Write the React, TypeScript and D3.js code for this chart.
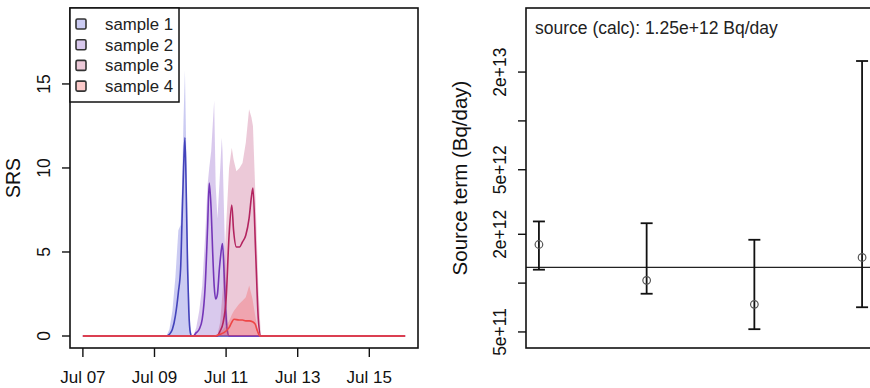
import * as d3 from "d3";

const START = Date.UTC(2011, 6, 7);
const HOUR = 3600 * 1000;

const sampleNames = ["sample 1", "sample 2", "sample 3", "sample 4"];
const lineColors = ["#4343bb", "#7436b8", "#b3245f", "#ee4646"];
const fillColors = [
  "rgba(70,70,210,0.28)",
  "rgba(120,60,190,0.28)",
  "rgba(180,40,100,0.25)",
  "rgba(245,80,80,0.3)",
];

// hours since Jul 07 00:00, median SRS and upper envelope
const s1Hours = [0, 56, 58, 60, 62, 64, 65.5, 66.5, 67.5, 68.4, 69.3, 70.2, 71, 72, 73, 216];
const s1Mid = [0, 0, 0.1, 0.4, 1.2, 2.6, 4, 7, 10, 11.8, 8.5, 4, 1.5, 0.2, 0, 0];
const s1Upper = [0, 0, 0.4, 1.5, 3.5, 6.3, 6.6, 9, 13, 15.8, 11, 6, 3, 0.6, 0, 0];

const s2Hours = [0, 74, 76, 78, 80, 82, 83.6, 84.7, 86, 87, 88, 89, 90.2, 91.5, 93.1, 93.6, 95, 96.5, 98, 216];
const s2Mid = [0, 0, 0.2, 0.4, 1, 3, 6.5, 9.1, 7.5, 5, 3, 2.2, 2.5, 4, 5.3, 5.5, 3, 0.5, 0, 0];
const s2Upper = [0, 0, 0.5, 1.5, 3, 6, 9, 10, 11, 12.5, 14, 9, 7, 9, 11.8, 11, 6, 1.5, 0, 0];

const s3Hours = [0, 90, 92, 94, 96, 98, 99.8, 101, 102.9, 105, 107, 109.2, 111.4, 113, 114, 115.8, 117.6, 119.3, 216];
const s3Mid = [0, 0, 0.3, 0.8, 2.2, 6, 7.8, 6.3, 5.3, 5.3, 5.6, 6, 7, 8.3, 8.8, 5, 1, 0, 0];
const s3Upper = [0, 0, 0.8, 3, 6.5, 10, 11.2, 10.5, 9.8, 10, 10.3, 11.5, 13.5, 13, 12.5, 8, 3, 0, 0];

const s4Hours = [0, 88, 92, 96, 98, 100, 101.3, 104.7, 107, 109.2, 111.5, 113.7, 115.5, 117, 118.7, 216];
const s4Mid = [0, 0, 0.1, 0.3, 0.5, 0.85, 1.0, 0.95, 0.95, 0.9, 0.9, 0.85, 0.7, 0.3, 0, 0];
const s4Upper = [0, 0, 0.2, 0.6, 0.9, 1.3, 1.5, 1.9, 2.1, 2.3, 3.0, 2.2, 1.2, 0.5, 0, 0];

const srsTicks = [0, 5, 10, 15];

const sourceSample = [1, 2, 3, 4];
const sourceEst = [1.73e12, 1.04e12, 7.4e11, 1.44e12];
const sourceLow = [1.21e12, 8.6e11, 5.2e11, 7.1e11];
const sourceHigh = [2.4e12, 2.34e12, 1.85e12, 2.34e13];
const sourceCalc = 1.25e12;
const logTicks = [5e11, 1e12, 2e12, 5e12, 1e13, 2e13];
const logLabels = ["5e+11", "", "2e+12", "5e+12", "", "2e+13"];

const FONT = "'Liberation Sans', Arial, Helvetica, sans-serif";

const samples = [
  { hours: s1Hours, mid: s1Mid, upper: s1Upper },
  { hours: s2Hours, mid: s2Mid, upper: s2Upper },
  { hours: s3Hours, mid: s3Mid, upper: s3Upper },
  { hours: s4Hours, mid: s4Mid, upper: s4Upper },
];

export default function App() {
  // left panel
  const L = { left: 70, right: 418, top: 8, bottom: 348 };
  const x = d3
    .scaleUtc()
    .domain([new Date(START - 8.64 * HOUR), new Date(START + 224.64 * HOUR)])
    .range([L.left, L.right]);
  const y = d3.scaleLinear().domain([-0.714, 19.52]).range([L.bottom, L.top]);
  const xTicks = x.ticks(d3.utcDay.every(2)!);
  const fmt = d3.utcFormat("%b %d");

  const area = d3
    .area<[number, number]>()
    .x((d) => x(new Date(START + d[0] * HOUR)))
    .y0(y(0))
    .y1((d) => y(d[1]));
  const line = d3
    .line<[number, number]>()
    .x((d) => x(new Date(START + d[0] * HOUR)))
    .y((d) => y(d[1]))
    .curve(d3.curveMonotoneX);

  // right panel
  const R = { left: 526, right: 875, top: 8, bottom: 348 };
  const xr = d3.scaleLinear().domain([0.88, 4.12]).range([R.left, R.right]);
  const yr = d3
    .scaleLog()
    .domain([Math.pow(10, 11.6), Math.pow(10, 13.696)])
    .range([R.bottom, R.top]);

  return (
    <svg
      width={870}
      height={388}
      style={{ position: "absolute", left: 0, top: 0, background: "#fff" }}
      fontFamily={FONT}
    >
      <defs>
        <clipPath id="clipL">
          <rect x={L.left} y={L.top} width={L.right - L.left} height={L.bottom - L.top} />
        </clipPath>
      </defs>

      {/* bands and medians */}
      <g clipPath="url(#clipL)">
        {samples.map((s, i) => {
          const up = s.hours.map((h, k) => [h, s.upper[k]] as [number, number]);
          const md = s.hours.map((h, k) => [h, s.mid[k]] as [number, number]);
          return (
            <g key={i}>
              <path d={area(up) || ""} fill={fillColors[i]} stroke="none" />
              <path d={line(md) || ""} fill="none" stroke={lineColors[i]} strokeWidth={1.6} />
            </g>
          );
        })}
      </g>

      {/* left box */}
      <rect
        x={L.left}
        y={L.top}
        width={L.right - L.left}
        height={L.bottom - L.top}
        fill="none"
        stroke="#111"
        strokeWidth={1.6}
      />

      {/* x axis */}
      {xTicks.map((t) => (
        <g key={+t}>
          <line x1={x(t)} x2={x(t)} y1={L.bottom} y2={L.bottom + 9} stroke="#111" strokeWidth={1.4} />
          <text x={x(t)} y={383} textAnchor="middle" fontSize={17} fill="#111">
            {fmt(t)}
          </text>
        </g>
      ))}

      {/* y axis */}
      {srsTicks.map((t) => (
        <g key={t}>
          <line x1={L.left - 8} x2={L.left} y1={y(t)} y2={y(t)} stroke="#111" strokeWidth={1.4} />
          <text
            transform={`translate(50,${y(t)}) rotate(-90)`}
            textAnchor="middle"
            fontSize={17.5}
            fill="#111"
          >
            {t}
          </text>
        </g>
      ))}
      <text
        transform={`translate(20,178) rotate(-90)`}
        textAnchor="middle"
        fontSize={19.5}
        fill="#111"
      >
        SRS
      </text>

      {/* legend */}
      <rect x={L.left} y={L.top} width={109} height={94} fill="#fff" stroke="#111" strokeWidth={1.5} />
      {sampleNames.map((n, i) => (
        <g key={n} transform={`translate(0,${24 + i * 20.7})`}>
          <rect
            x={76}
            y={-5}
            width={10}
            height={10}
            rx={1.5}
            fill={fillColors[i]}
            stroke="#333"
            strokeWidth={1.6}
          />
          <text x={105} y={6} fontSize={16.8} fill="#222">
            {n}
          </text>
        </g>
      ))}

      {/* right panel */}
      <line
        x1={R.left}
        x2={R.right}
        y1={yr(sourceCalc)}
        y2={yr(sourceCalc)}
        stroke="#222"
        strokeWidth={1.4}
      />
      {sourceSample.map((s, i) => (
        <g key={s}>
          <line x1={xr(s)} x2={xr(s)} y1={yr(sourceLow[i])} y2={yr(sourceHigh[i])} stroke="#111" strokeWidth={1.8} />
          <line x1={xr(s) - 6} x2={xr(s) + 6} y1={yr(sourceLow[i])} y2={yr(sourceLow[i])} stroke="#111" strokeWidth={1.8} />
          <line x1={xr(s) - 6} x2={xr(s) + 6} y1={yr(sourceHigh[i])} y2={yr(sourceHigh[i])} stroke="#111" strokeWidth={1.8} />
          <circle cx={xr(s)} cy={yr(sourceEst[i])} r={3.8} fill="none" stroke="#555" strokeWidth={1.2} />
        </g>
      ))}
      <rect
        x={R.left}
        y={R.top}
        width={R.right - R.left}
        height={R.bottom - R.top}
        fill="none"
        stroke="#111"
        strokeWidth={1.6}
      />
      {logTicks.map((t, i) => (
        <g key={t}>
          <line x1={R.left - 8} x2={R.left} y1={yr(t)} y2={yr(t)} stroke="#111" strokeWidth={1.4} />
          {logLabels[i] && (
            <text
              transform={`translate(506,${yr(t)}) rotate(-90)`}
              textAnchor="middle"
              fontSize={17.5}
              fill="#111"
            >
              {logLabels[i]}
            </text>
          )}
        </g>
      ))}
      <text
        transform={`translate(467,178) rotate(-90)`}
        textAnchor="middle"
        fontSize={20.5}
        fill="#111"
      >
        Source term (Bq/day)
      </text>
      <text x={535} y={33.5} fontSize={17.5} fill="#222">
        source (calc): 1.25e+12 Bq/day
      </text>
    </svg>
  );
}
